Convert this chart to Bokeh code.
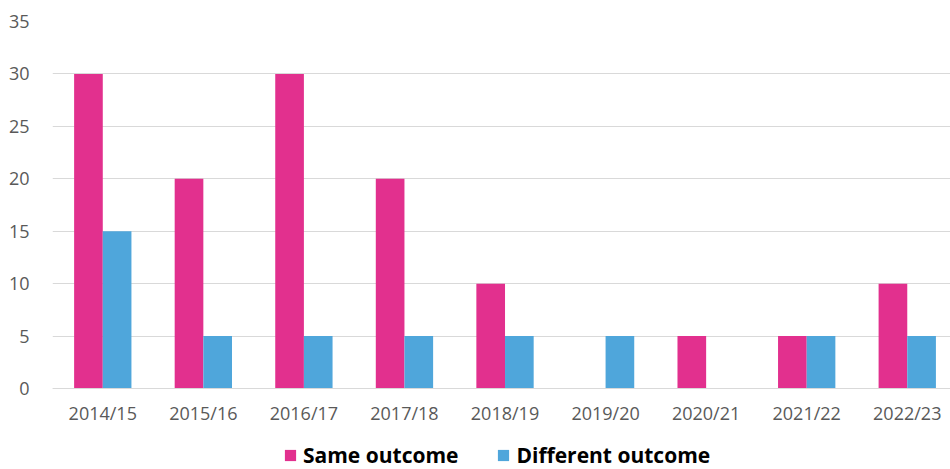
from bokeh.plotting import figure
from bokeh.models import ColumnDataSource, Range1d, FixedTicker, Legend, LegendItem
from bokeh.transform import dodge
from bokeh.embed import file_html
from bokeh.resources import INLINE

years = ["2014/15", "2015/16", "2016/17", "2017/18", "2018/19",
         "2019/20", "2020/21", "2021/22", "2022/23"]
same_outcome = [30, 20, 30, 20, 10, 0, 5, 5, 10]
different_outcome = [15, 5, 5, 5, 5, 5, 0, 5, 5]
y_ticks = [0, 5, 10, 15, 20, 25, 30, 35]

PINK = "#E2308E"
BLUE = "#4FA6DB"
FONT = "Open Sans"

idx = list(range(len(years)))
src = ColumnDataSource(dict(x=idx, same=same_outcome, diff=different_outcome))

# frame spans full height below the top border; the lower part holds axis labels and legend
p = figure(width=950, height=469, output_backend="svg", toolbar_location=None,
           x_range=Range1d(-0.5, 8.43), y_range=Range1d(-7.72, 35),
           min_border_left=52, min_border_right=0, min_border_top=21,
           min_border_bottom=0)
p.outline_line_color = None
p.background_fill_color = "white"
p.border_fill_color = "white"

bw = 0.285
r1 = p.vbar(x=dodge("x", -bw / 2), top="same", width=bw, source=src,
            fill_color=PINK, line_color=None)
r2 = p.vbar(x=dodge("x", bw / 2), top="diff", width=bw, source=src,
            fill_color=BLUE, line_color=None)

p.xgrid.grid_line_color = None
p.ygrid.grid_line_color = "#D9D9D9"
p.ygrid.grid_line_width = 1
p.ygrid.ticker = FixedTicker(ticks=y_ticks)

p.yaxis.ticker = FixedTicker(ticks=y_ticks)
p.yaxis.axis_line_color = None
p.yaxis.major_tick_line_color = None
p.yaxis.minor_tick_line_color = None
p.yaxis.major_label_text_font = FONT
p.yaxis.major_label_text_font_size = "18px"
p.yaxis.major_label_text_color = "#595959"
p.yaxis.major_label_standoff = 17

p.xaxis.fixed_location = 0
p.xaxis.ticker = FixedTicker(ticks=idx)
p.xaxis.major_label_overrides = {i: y for i, y in zip(idx, years)}
p.xaxis.axis_line_color = "#D9D9D9"
p.xaxis.major_tick_line_color = None
p.xaxis.minor_tick_line_color = None
p.xaxis.major_label_text_font = FONT
p.xaxis.major_label_text_font_size = "18px"
p.xaxis.major_label_text_color = "#595959"
p.xaxis.major_label_standoff = 6

legend = Legend(items=[LegendItem(label="Same outcome", renderers=[r1]),
                       LegendItem(label="Different outcome", renderers=[r2])],
                orientation="horizontal", location=(231, 0))
legend.label_text_font = FONT
legend.label_text_font_style = "bold"
legend.label_text_font_size = "21px"
legend.label_text_color = "#000000"
legend.glyph_width = 14
legend.glyph_height = 14
legend.label_standoff = 6
legend.spacing = 38
legend.border_line_color = None
legend.background_fill_alpha = 0
legend.padding = 0
legend.margin = 0
p.add_layout(legend, "center")

open("out.html", "w").write(file_html(p, INLINE))
